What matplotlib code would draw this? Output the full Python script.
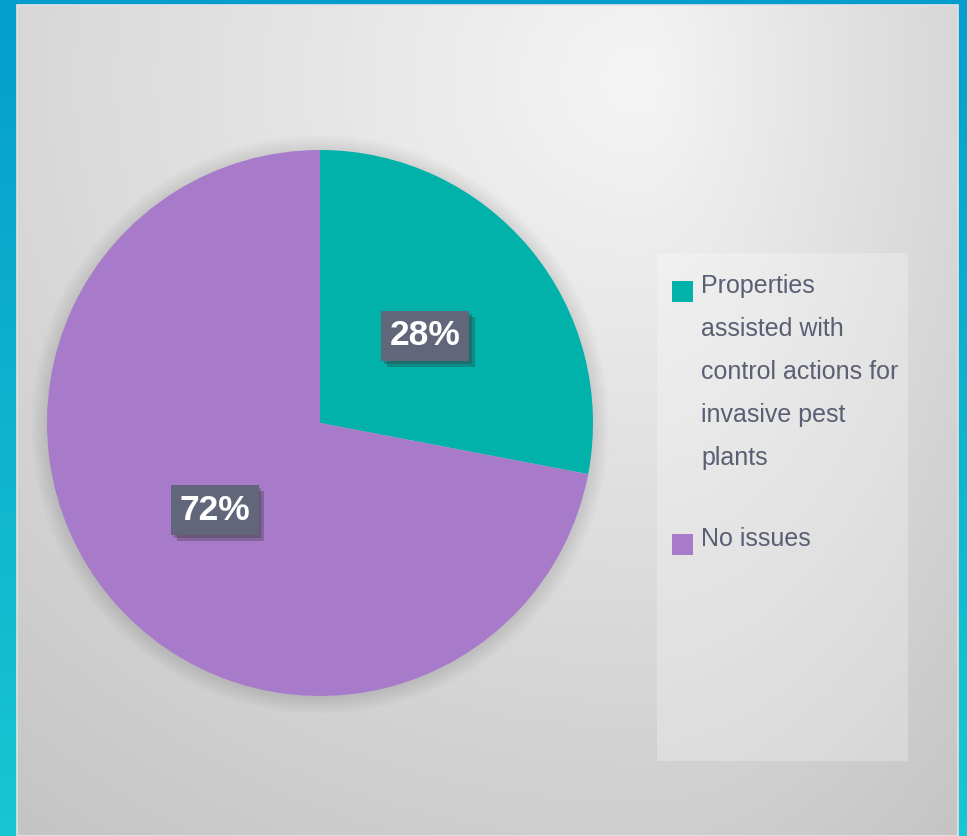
import numpy as np
import matplotlib
matplotlib.use("Agg")
import matplotlib.pyplot as plt
from matplotlib.patches import Rectangle, Circle
import matplotlib.patheffects as pe

plt.rcParams['font.family'] = ['Liberation Sans', 'DejaVu Sans']

# data
labels = ['Properties\nassisted with\ncontrol actions for\ninvasive pest\nplants', 'No issues']
values = [28, 72]
colors = ['#00B2AA', '#A77BC9']

W, H = 967, 836
fig = plt.figure(figsize=(W / 100, H / 100), dpi=100)

# background in pixel coords
bg = fig.add_axes([0, 0, 1, 1])
bg.set_xlim(0, W)
bg.set_ylim(H, 0)
bg.axis('off')

# outer blue frame gradient
yy, xx = np.mgrid[0:H, 0:W]
c_top = np.array([0.02, 0.62, 0.80])
c_bot = np.array([0.09, 0.78, 0.82])
t = (yy / H)[..., None]
outer = c_top * (1 - t) + c_bot * t
bg.imshow(outer, extent=[0, W, H, 0], aspect='auto', zorder=0)

# inner grey panel with soft radial gradient
px0, px1, py0, py1 = 17, 958, 5, 836
sub_y, sub_x = np.mgrid[py0:py1, px0:px1]
sx = np.where(sub_x > 640, 330.0, 650.0)
d = np.sqrt(((sub_x - 640) / sx) ** 2 + ((sub_y - 80) / 600.0) ** 2)
v = np.clip(0.96 - 0.12 * d, 0, 1)
panel = np.dstack([v, v, v])
bg.imshow(panel, extent=[px0, px1, py1, py0], aspect='auto', zorder=1)
bg.add_patch(Rectangle((px0, py0), px1 - px0, py1 - py0, fill=False,
                       edgecolor='#e4e4e4', lw=1.2, zorder=2))

# legend panel
bg.add_patch(Rectangle((657, 253), 251, 508, facecolor='white', alpha=0.25,
                       edgecolor='none', zorder=2))

# pie
cx, cy, r = 320, 423, 273
ax = fig.add_axes([(cx - r) / W, (H - cy - r) / H, 2 * r / W, 2 * r / H])
ax.set_facecolor('none')

# soft shadow around pie
for k in range(12):
    ax.add_patch(Circle((0.0, -0.006), 1.0 + 0.005 * (k + 1), color='black',
                        alpha=0.008, lw=0, zorder=0, clip_on=False))

wedges, texts, autotexts = ax.pie(
    values, colors=colors, startangle=90, counterclock=False,
    autopct='%d%%', pctdistance=0.5, radius=1,
    wedgeprops=dict(linewidth=0),
    textprops=dict(color='white', fontsize=25.5, fontweight='bold'))
for w in wedges:
    w.set_zorder(2)
for at in autotexts:
    at.set_zorder(5)
    at.set_bbox(dict(boxstyle='square,pad=0.24', facecolor='#62667a',
                     edgecolor='none'))
    at.get_bbox_patch().set_path_effects([
        pe.SimplePatchShadow(offset=(4, -4), shadow_rgbFace='#333333', alpha=0.3),
        pe.SimplePatchShadow(offset=(2, -2), shadow_rgbFace='#333333', alpha=0.3),
        pe.Normal()])
ax.set_xlim(-1, 1)
ax.set_ylim(-1, 1)
ax.set_aspect('equal')
ax.axis('off')

# legend drawn by hand, one text per line so the spacing is fixed
leg_tops = [274, 527]
line_step = 43
for lab, col, top in zip(labels, colors, leg_tops):
    bg.add_patch(Rectangle((672, top + 7), 21, 21, facecolor=col,
                           edgecolor='none', zorder=3))
    for i, line in enumerate(lab.split('\n')):
        bg.text(701, top + i * line_step, line, fontsize=18, color='#5a5f73',
                va='top', ha='left', zorder=3)

fig.savefig('out.png', dpi=100)
